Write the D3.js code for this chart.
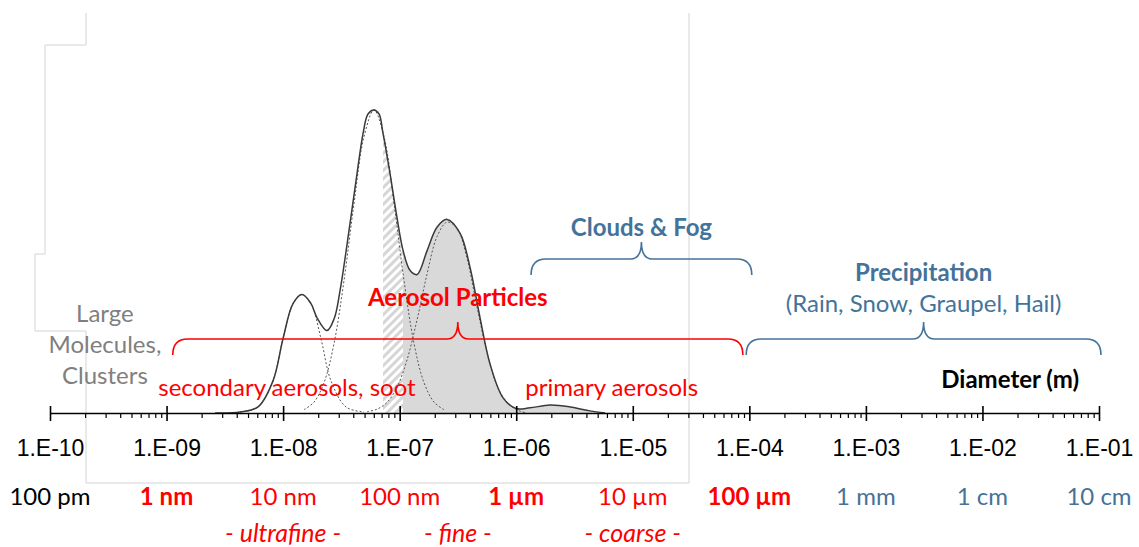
<!DOCTYPE html>
<html>
<head>
	<meta charset="utf-8">
	<script src="https://d3js.org/d3.v7.min.js"></script>
	<style>
		body { margin: 0; background: #fff; }
	</style>
</head>
<body>
	<div id="output"></div>
	<script>
		// ---- data ----
		var decades = [1e-10, 1e-9, 1e-8, 1e-7, 1e-6, 1e-5, 1e-4, 1e-3, 1e-2, 1e-1];
		var tickLabels = ["1.E-10", "1.E-09", "1.E-08", "1.E-07", "1.E-06", "1.E-05", "1.E-04", "1.E-03", "1.E-02", "1.E-01"];
		var unitLabels = ["100 pm", "1 nm", "10 nm", "100 nm", "1 \u00b5m", "10 \u00b5m", "100 \u00b5m", "1 mm", "1 cm", "10 cm"];
		var unitGroup = ["none", "aerosol", "aerosol", "aerosol", "aerosol", "aerosol", "aerosol", "hydro", "hydro", "hydro"];
		var keyUnits = ["1 nm", "1 \u00b5m", "100 \u00b5m"];

		var sizeClasses = ["- ultrafine -", "- fine -", "- coarse -"];
		var sizeClassRange = [[1e-9, 1e-7], [1e-7, 1e-6], [1e-6, 1e-4]];

		// [diameter (m), relative number concentration]
		var totalCurve = [
			[2.61e-9, 0], [4.27e-9, 0.003], [6.09e-9, 0.02], [8.19e-9, 0.106], [9.98e-9, 0.245],
			[1.216e-8, 0.361], [1.453e-8, 0.391], [1.735e-8, 0.361], [1.95e-8, 0.315], [2.38e-8, 0.272],
			[2.74e-8, 0.311], [3.08e-8, 0.404], [3.75e-8, 0.626], [4.31e-8, 0.791], [4.86e-8, 0.924],
			[5.35e-8, 0.987], [6.03e-8, 1.0], [6.65e-8, 0.987], [7.19e-8, 0.924], [8.26e-8, 0.791],
			[9.48e-8, 0.646], [1.07e-7, 0.536], [1.23e-7, 0.470], [1.41e-7, 0.457], [1.72e-7, 0.536],
			[2.09e-7, 0.613], [2.55e-7, 0.639], [3.30e-7, 0.593], [4.02e-7, 0.480], [4.89e-7, 0.315],
			[5.96e-7, 0.162], [7.71e-7, 0.050], [9.96e-7, 0.015], [1.31e-6, 0.017], [1.95e-6, 0.026],
			[2.90e-6, 0.020], [4.30e-6, 0.007], [5.78e-6, 0]
		];
		var nucleationMode = [
			[4.27e-9, 0.003], [6.09e-9, 0.02], [8.19e-9, 0.106], [9.98e-9, 0.245], [1.216e-8, 0.361],
			[1.453e-8, 0.391], [1.735e-8, 0.361], [2.114e-8, 0.245], [2.576e-8, 0.106], [3.465e-8, 0.02],
			[4.944e-8, 0.003]
		];
		var aitkenMode = [
			[1.511e-8, 0.011], [1.841e-8, 0.036], [2.243e-8, 0.100], [2.733e-8, 0.229], [3.330e-8, 0.437],
			[4.058e-8, 0.691], [4.944e-8, 0.912], [6.024e-8, 1.0], [7.340e-8, 0.912], [8.944e-8, 0.691],
			[1.090e-7, 0.437], [1.328e-7, 0.229], [1.618e-7, 0.100], [1.971e-7, 0.036], [2.402e-7, 0.011]
		];
		var accumulationMode = [
			[5.247e-8, 0.004], [6.393e-8, 0.0125], [7.789e-8, 0.035], [9.490e-8, 0.085], [1.156e-7, 0.175],
			[1.409e-7, 0.307], [1.716e-7, 0.458], [2.092e-7, 0.582], [2.548e-7, 0.63], [3.105e-7, 0.61],
			[3.784e-7, 0.51], [4.609e-7, 0.35], [5.617e-7, 0.2], [6.843e-7, 0.09], [8.340e-7, 0.035],
			[1.016e-6, 0.01], [1.238e-6, 0]
		];
		var hatchFrom = 7.19e-8;
		var fillFrom = 1.068e-7;

		var braceNames = ["Aerosol Particles", "Clouds & Fog", "Precipitation"];
		var braceNotes = ["", "", "(Rain, Snow, Graupel, Hail)"];
		var braceFrom = [1.13e-9, 1.34e-6, 9.4e-5];
		var braceTo = [8.8e-5, 1.05e-4, 0.104];
		var braceGroup = ["aerosol", "hydro", "hydro"];

		var noteTexts = [["Large", "Molecules,", "Clusters"], ["secondary aerosols, soot"], ["primary aerosols"], ["Diameter (m)"]];
		var noteAt = [2.96e-10, 1.08e-8, 6.6e-6, 1.73e-2];

		// ---- colours ----
		var red = "#ff0000", blue = "#44739a", grey = "#808080";
		var groupColor = { none: "#000", aerosol: red, hydro: blue };

		var svg = d3.select("#output").append("svg")
			.attr("width", 1139)
			.attr("height", 547)
			.style("font-family", "Lato, 'Open Sans', sans-serif");

		var x = d3.scaleLog().domain([1e-10, 1e-1]).range([50, 1099]);
		var y = d3.scaleLinear().domain([0, 1]).range([413, 110]);

		// old plot-area frame left in the picture
		svg.append("path")
			.attr("d", "M86,13V45H45V254H35V331H86V483H689V13")
			.attr("fill", "none")
			.attr("stroke", "#d4d4d4")
			.attr("stroke-width", 1);

		var defs = svg.append("defs");
		var pat = defs.append("pattern")
			.attr("id", "hatch")
			.attr("width", 6).attr("height", 6)
			.attr("patternUnits", "userSpaceOnUse")
			.attr("patternTransform", "rotate(45)");
		pat.append("line")
			.attr("x1", 1.5).attr("y1", 0).attr("x2", 1.5).attr("y2", 6)
			.attr("stroke", "#d6d6d6").attr("stroke-width", 3);

		var lastD = totalCurve[totalCurve.length - 1][0];
		defs.append("clipPath").attr("id", "clipHatch").append("rect")
			.attr("x", x(hatchFrom)).attr("y", 0)
			.attr("width", x(fillFrom) - x(hatchFrom)).attr("height", y(0));
		defs.append("clipPath").attr("id", "clipFill").append("rect")
			.attr("x", x(fillFrom)).attr("y", 0)
			.attr("width", x(lastD) - x(fillFrom) + 2).attr("height", y(0));

		var curve = d3.curveCatmullRom.alpha(0.5);
		var line = d3.line().x(function(d) { return x(d[0]); }).y(function(d) { return y(d[1]); }).curve(curve);
		var area = d3.area().x(function(d) { return x(d[0]); }).y0(y(0)).y1(function(d) { return y(d[1]); }).curve(curve);

		svg.append("path").attr("d", area(totalCurve)).attr("fill", "url(#hatch)").attr("clip-path", "url(#clipHatch)");
		svg.append("path").attr("d", area(totalCurve)).attr("fill", "#d9d9d9").attr("clip-path", "url(#clipFill)");

		// annotations
		noteTexts.forEach(function(lines, i) {
			var col = i == 0 ? grey : (i == 3 ? "#000" : red);
			var base = i == 0 ? 322 : (i == 3 ? 388 : 396);
			lines.forEach(function(t, j) {
				svg.append("text")
					.attr("x", x(noteAt[i]))
					.attr("y", base + j * 31)
					.attr("text-anchor", "middle")
					.style("font-size", "24px")
					.style("font-weight", i == 3 ? 700 : 400)
					.attr("fill", col)
					.text(t);
			});
		});

		// mode components (dotted) and total
		[nucleationMode, aitkenMode, accumulationMode].forEach(function(m) {
			svg.append("path")
				.attr("d", line(m))
				.attr("fill", "none")
				.attr("stroke", "#555")
				.attr("stroke-width", 1)
				.attr("stroke-dasharray", "2,2");
		});
		svg.append("path")
			.attr("d", line(totalCurve))
			.attr("fill", "none")
			.attr("stroke", "#3a3a3a")
			.attr("stroke-width", 1.5);

		// axis
		var minor = x.ticks().filter(function(d) { return decades.indexOf(d) < 0; });
		svg.append("g")
			.attr("transform", "translate(0," + y(0) + ")")
			.call(d3.axisBottom(x).tickValues(minor).tickSize(5).tickFormat(""))
			.call(function(g) { g.select(".domain").remove(); })
			.selectAll("line").attr("stroke", "#000").attr("stroke-width", 1.2);

		var ax = svg.append("g")
			.attr("transform", "translate(0," + y(0) + ")")
			.call(d3.axisBottom(x)
				.tickValues(decades)
				.tickFormat(function(d, i) { return tickLabels[i]; })
				.tickSizeInner(8)
				.tickSizeOuter(0)
				.tickPadding(19));
		ax.select(".domain").attr("stroke", "#000").attr("stroke-width", 1.6);
		ax.selectAll(".tick line").attr("y1", -7).attr("stroke", "#000").attr("stroke-width", 1.6);
		ax.selectAll(".tick text")
			.style("font-family", "'Liberation Sans', Arial, sans-serif")
			.style("font-size", "23px")
			.attr("fill", "#000");

		// unit row
		svg.selectAll("text.unit")
			.data(unitLabels)
			.enter().append("text")
			.attr("class", "unit")
			.attr("x", function(d, i) { return x(decades[i]); })
			.attr("y", 505)
			.attr("text-anchor", "middle")
			.style("font-size", "24px")
			.style("font-weight", function(d) { return keyUnits.indexOf(d) >= 0 ? 700 : 400; })
			.attr("fill", function(d, i) { return groupColor[unitGroup[i]]; })
			.text(function(d) { return d; });

		// size classes
		svg.selectAll("text.cls")
			.data(sizeClasses)
			.enter().append("text")
			.attr("class", "cls")
			.attr("x", function(d, i) { return x(Math.sqrt(sizeClassRange[i][0] * sizeClassRange[i][1])); })
			.attr("y", 542)
			.attr("text-anchor", "middle")
			.style("font-size", "25px")
			.style("font-style", "italic")
			.attr("fill", red)
			.text(function(d) { return d; });

		// braces
		var braceLevel = [355, 275, 355];
		var labelGap = [49, 39, 74];
		function bracePath(x0, x1, yEnd) {
			var yBar = yEnd - 16, yTip = yEnd - 33, xc = (x0 + x1) / 2, r = 15, rc = 11;
			return "M" + x0 + "," + yEnd +
				"Q" + x0 + "," + yBar + " " + (x0 + r) + "," + yBar +
				"L" + (xc - rc) + "," + yBar +
				"Q" + xc + "," + yBar + " " + xc + "," + yTip +
				"Q" + xc + "," + yBar + " " + (xc + rc) + "," + yBar +
				"L" + (x1 - r) + "," + yBar +
				"Q" + x1 + "," + yBar + " " + x1 + "," + yEnd;
		}
		braceNames.forEach(function(name, i) {
			var x0 = x(braceFrom[i]), x1 = x(braceTo[i]), col = groupColor[braceGroup[i]];
			var yEnd = braceLevel[i];
			svg.append("path")
				.attr("d", bracePath(x0, x1, yEnd))
				.attr("fill", "none")
				.attr("stroke", col)
				.attr("stroke-width", 1.6);
			var top = yEnd - labelGap[i];
			svg.append("text")
				.attr("x", (x0 + x1) / 2)
				.attr("y", top)
				.attr("text-anchor", "middle")
				.style("font-size", "24px")
				.style("font-weight", 700)
				.attr("fill", col)
				.text(name);
			if (braceNotes[i]) {
				svg.append("text")
					.attr("x", (x0 + x1) / 2)
					.attr("y", top + 31)
					.attr("text-anchor", "middle")
					.style("font-size", "24px")
					.attr("fill", col)
					.text(braceNotes[i]);
			}
		});
	</script>
</body>
</html>
